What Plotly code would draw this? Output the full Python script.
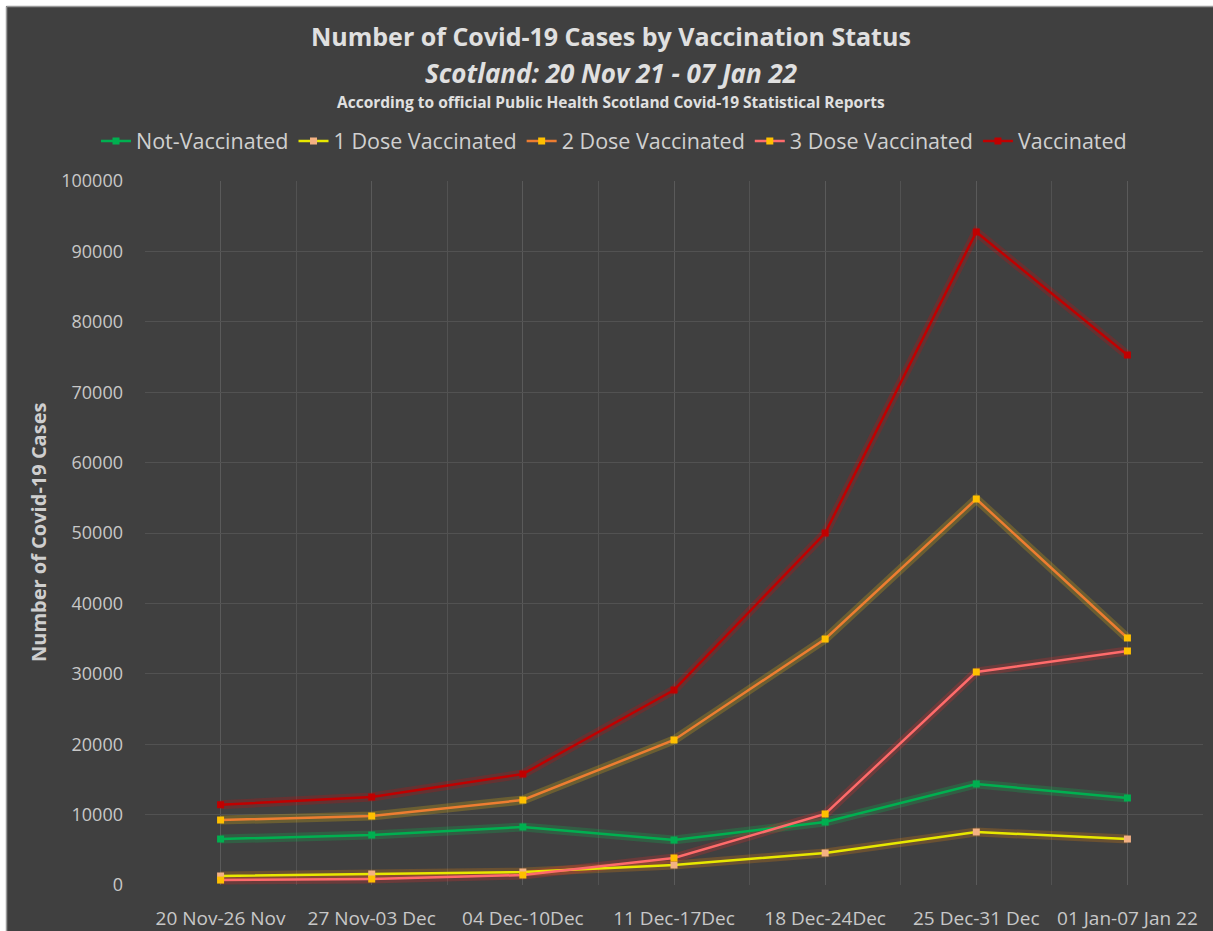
import plotly.graph_objects as go

categories = ["20 Nov-26 Nov", "27 Nov-03 Dec", "04 Dec-10Dec", "11 Dec-17Dec",
              "18 Dec-24Dec", "25 Dec-31 Dec", "01 Jan-07 Jan 22"]
not_vaccinated = [6530, 7100, 8240, 6390, 8950, 14350, 12360]
dose1 = [1280, 1560, 1850, 2840, 4550, 7530, 6530]
dose2 = [9230, 9800, 12070, 20600, 34940, 54830, 35090]
dose3 = [700, 850, 1420, 3840, 10090, 30260, 33240]
vaccinated = [11400, 12500, 15770, 27700, 50000, 92760, 75280]
y_ticks = list(range(0, 100001, 10000))

series = [
    ("Not-Vaccinated", not_vaccinated, "#00b050", "#00b050", "rgba(0,200,80,0.22)"),
    ("1 Dose Vaccinated", dose1, "#e8e800", "#f4b183", "rgba(255,140,0,0.22)"),
    ("2 Dose Vaccinated", dose2, "#ed7d31", "#ffc000", "rgba(255,200,0,0.22)"),
    ("3 Dose Vaccinated", dose3, "#ff6b6b", "#ffc000", "rgba(255,40,40,0.22)"),
    ("Vaccinated", vaccinated, "#c00000", "#c00000", "rgba(230,0,0,0.22)"),
]

x = list(range(len(categories)))
fig = go.Figure()
# glow layers
for name, vals, lc, mc, gc in series:
    fig.add_trace(go.Scatter(x=x, y=vals, mode="lines", line=dict(color=gc, width=9),
                             showlegend=False, hoverinfo="skip"))
for name, vals, lc, mc, gc in series:
    fig.add_trace(go.Scatter(x=x, y=vals, mode="lines+markers", name=name,
                             line=dict(color=lc, width=2.5),
                             marker=dict(symbol="square", size=7, color=mc,
                                         line=dict(width=0))))

L, R, T, B = 145, 10, 181, 46
W, H = 1213, 931
pw, ph = W - L - R, H - T - B


def px(xp):
    return (xp - L) / pw


def py(yp):
    return (H - B - yp) / ph


font_main = "Open Sans"
shapes = [
    dict(type="rect", xref="paper", yref="paper", x0=px(-5), x1=px(6), y0=py(H + 5), y1=py(-5),
         fillcolor="white", line=dict(width=0), layer="below"),
    dict(type="rect", xref="paper", yref="paper", x0=px(-5), x1=px(W + 5), y0=py(6), y1=py(-5),
         fillcolor="white", line=dict(width=0), layer="below"),
    dict(type="line", xref="paper", yref="paper", x0=px(6.5), x1=px(6.5), y0=py(H + 5), y1=py(6.5),
         line=dict(color="#9a9a9a", width=1.5)),
    dict(type="line", xref="paper", yref="paper", x0=px(6.5), x1=px(W + 5), y0=py(6.5), y1=py(6.5),
         line=dict(color="#9a9a9a", width=1.5)),
]

annotations = [
    dict(text="<b>Number of Covid-19 Cases by Vaccination Status</b>", x=px(611), y=py(36),
         xref="paper", yref="paper", showarrow=False, xanchor="center", yanchor="middle",
         font=dict(family=font_main, size=25, color="#e0e0e0")),
    dict(text="<b><i>Scotland: 20 Nov 21 - 07 Jan 22</i></b>", x=px(611), y=py(73),
         xref="paper", yref="paper", showarrow=False, xanchor="center", yanchor="middle",
         font=dict(family=font_main, size=26, color="#e0e0e0")),
    dict(text="<b>According to official Public Health Scotland Covid-19 Statistical Reports</b>",
         x=px(611), y=py(102), xref="paper", yref="paper", showarrow=False,
         xanchor="center", yanchor="middle",
         font=dict(family=font_main, size=15.5, color="#e0e0e0")),
    dict(text="<b>Number of Covid-19 Cases</b>", x=px(38), y=py(533), xref="paper", yref="paper",
         showarrow=False, textangle=-90, xanchor="center", yanchor="middle",
         font=dict(family=font_main, size=20, color="#cfcfcf")),
]

fig.update_layout(
    width=W, height=H,
    margin=dict(l=L, r=R, t=T, b=B, autoexpand=False),
    paper_bgcolor="#404040", plot_bgcolor="#404040",
    shapes=shapes, annotations=annotations,
    legend=dict(orientation="h", x=px(614), xanchor="center", y=py(141), yanchor="middle",
                font=dict(family=font_main, size=21.5, color="#d0d0d0"),
                bgcolor="rgba(0,0,0,0)", itemwidth=30, tracegroupgap=0),
    xaxis=dict(range=[-0.5, 6.5], tickvals=x, ticktext=categories, showgrid=True,
               gridcolor="#5a5a5a", gridwidth=1, zeroline=False, showline=False, ticks="",
               ticklabelstandoff=20, automargin=False,
               tickfont=dict(family=font_main, size=19, color="#c8c8c8")),
    yaxis=dict(range=[0, 100000], tickvals=y_ticks, ticktext=[str(v) for v in y_ticks],
               showgrid=True, gridcolor="#525252", gridwidth=1, zeroline=False, showline=False,
               ticks="", ticklabelstandoff=21, automargin=False,
               tickfont=dict(family=font_main, size=18, color="#c8c8c8")),
    showlegend=True,
)
fig.update_xaxes(minor=dict(tickvals=[i + 0.5 for i in range(-1, 7)], showgrid=True,
                            gridcolor="#525252", gridwidth=1))

fig.write_html("out.html", config={"displayModeBar": False},
               post_script="document.body.style.margin='0px';document.body.style.overflow='hidden';")
